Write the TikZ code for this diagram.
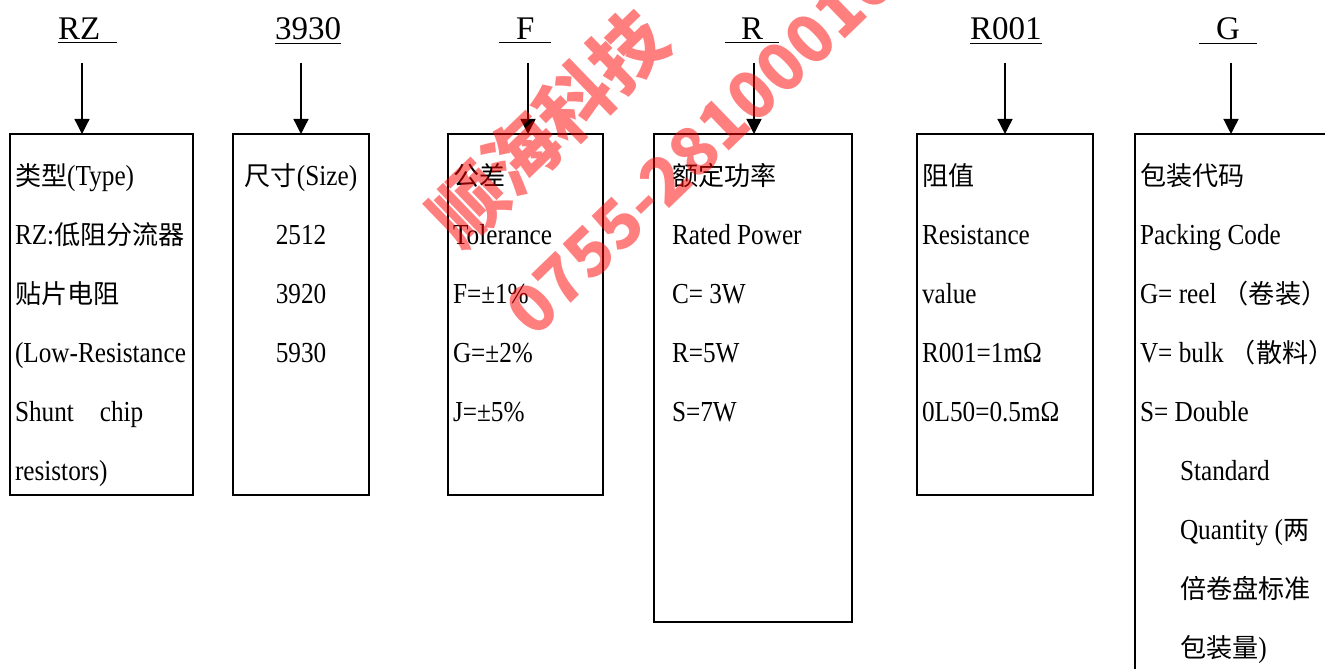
\documentclass[tikz,border=0pt]{standalone}
\usepackage{fontspec}
\setmainfont[FakeStretch=0.87]{Liberation Serif}
\newfontfamily\titlefont{Liberation Serif}
\newfontfamily\cjk[Scale=0.9]{Noto Sans CJK SC}
\newfontfamily\wmfont{Noto Sans CJK SC}
\newcommand{\zh}[1]{{\cjk #1}}
\usetikzlibrary{arrows.meta}

\begin{document}
\begin{tikzpicture}[x=0.5pt,y=-0.5pt,
    every node/.style={inner sep=0pt,outer sep=0pt},
    code/.style={font=\titlefont\fontsize{16.5pt}{20pt}\selectfont,anchor=base west},
    line/.style={font=\fontsize{14.5pt}{18pt}\selectfont,anchor=base west},
    box/.style={draw,line width=1.2pt,anchor=north west},
    arr/.style={-{Triangle[width=7.5pt,length=7.5pt]},line width=0.65pt},
    wmark/.style={text=red,text opacity=0.5,rotate=44}]
  \useasboundingbox (0,0) rectangle (1325,668);
  \clip (0,0) rectangle (1325,668);
  % part number codes
  \node[code] (codeRZ) at (58,40) {\underline{RZ\hspace{8.5pt}}};
  \node[code] (code3930) at (275,40) {\underline{3930}};
  \node[code] (codeF) at (499,40) {\underline{\hspace{8.5pt}F\hspace{8.5pt}}};
  \node[code] (codeR) at (725,40) {\underline{\hspace{8pt}R\hspace{8pt}}};
  \node[code] (codeR001) at (970,40) {\underline{R001}};
  \node[code] (codeG) at (1199,40) {\underline{\hspace{8.5pt}G\hspace{8.5pt}}};
  % boxes
  \node[box,minimum width=91.5pt,minimum height=180.5pt] (boxType) at (10,134) {};
  \node[box,minimum width=68pt,minimum height=180.5pt] (boxSize) at (233,134) {};
  \node[box,minimum width=77.5pt,minimum height=180.5pt] (boxTol) at (448,134) {};
  \node[box,minimum width=99pt,minimum height=244pt] (boxPow) at (654,134) {};
  \node[box,minimum width=88pt,minimum height=180.5pt] (boxRes) at (917,134) {};
  \node[box,minimum width=105pt,minimum height=278pt] (boxPack) at (1135,134) {};
  % arrows
  \coordinate (aType) at (82,63);
  \coordinate (aSize) at (301,63);
  \coordinate (aTol) at (528,63);
  \coordinate (aPow) at (754,63);
  \coordinate (aRes) at (1005,63);
  \coordinate (aPack) at (1231,63);
  \draw[arr] (aType) -- (aType |- boxType.north);
  \draw[arr] (aSize) -- (aSize |- boxSize.north);
  \draw[arr] (aTol) -- (aTol |- boxTol.north);
  \draw[arr] (aPow) -- (aPow |- boxPow.north);
  \draw[arr] (aRes) -- (aRes |- boxRes.north);
  \draw[arr] (aPack) -- (aPack |- boxPack.north);
  % box texts
  \foreach \s [count=\i from 0] in {{\zh{类型}(Type)},{RZ:\zh{低阻分流器}},{\zh{贴片电阻}},
      {(Low-Resistance},{Shunt\hspace{13pt}chip},{resistors)}}
    \node[line] (type\i) at (15,185+59*\i) {\s};
  \foreach \s [count=\i from 0] in {{\zh{尺寸}(Size)},2512,3920,5930}
    \node[line,anchor=base] (size\i) at (301,185+59*\i) {\s};
  \foreach \s [count=\i from 0] in {{\zh{公差}},Tolerance,{F=±1\%},{G=±2\%},{J=±5\%}}
    \node[line] (tol\i) at (453,185+59*\i) {\s};
  \foreach \s [count=\i from 0] in {{\zh{额定功率}},{Rated Power},{C= 3W},{R=5W},{S=7W}}
    \node[line] (pow\i) at (672,185+59*\i) {\s};
  \foreach \s [count=\i from 0] in {{\zh{阻值}},Resistance,value,{R001=1mΩ},{0L50=0.5mΩ}}
    \node[line] (res\i) at (922,185+59*\i) {\s};
  \foreach \x/\s [count=\i from 0] in {1140/{\zh{包装代码}},1140/{Packing Code},
      1140/{G= reel \zh{（卷装）}},1140/{V= bulk \zh{（散料）}},1140/{S= Double},
      1180/{Standard},1180/{Quantity (\zh{两}},1180/{\zh{倍卷盘标准}},1180/{\zh{包装量})}}
    \node[line] (pack\i) at (\x,185+59*\i) {\s};
  % watermark
  \node[wmark,font=\wmfont\bfseries\fontsize{37pt}{42pt}\selectfont] (wmName) at (548,128) {顺海科技};
  \node[wmark,font=\wmfont\bfseries\fontsize{33pt}{38pt}\selectfont] (wmTel) at (700,146) {0755-28100016};
\end{tikzpicture}
\end{document}
